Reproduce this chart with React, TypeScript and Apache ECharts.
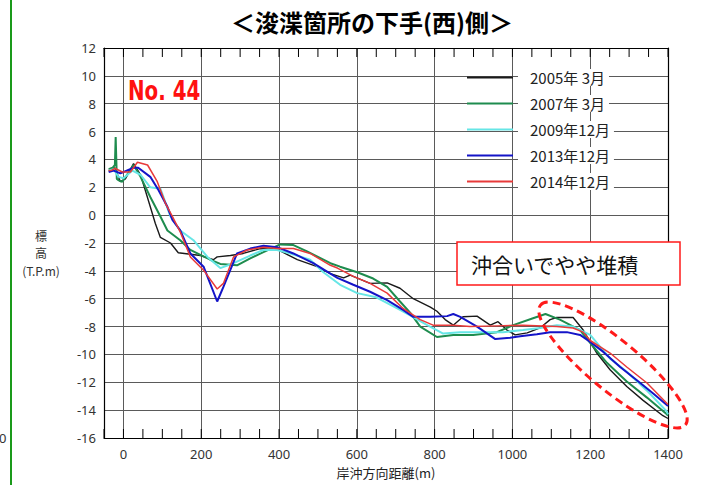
import React, { useEffect, useRef } from "react";
import * as echarts from "echarts";

const titleText = "＜浚渫箇所の下手(西)側＞";
const seriesNames = ["2005年 3月", "2007年 3月", "2009年12月", "2013年12月", "2014年12月"];
const seriesColors = ["#1a1a1a", "#1e8c4e", "#66e6e6", "#1414c8", "#e83a3a"];
const seriesWidths = [1.4, 2, 2, 2, 1.5];

const s2005: [number, number][] = [
  [-38, 3.2], [-22, 3.4], [-8, 2.4], [5, 2.6], [26, 3.7], [44, 2.9], [69, 0.6], [82, -0.6], [95, -1.6],
  [121, -2.0], [141, -2.7], [198, -2.9], [231, -3.2], [241, -3.0], [275, -2.9], [308, -2.75], [352, -2.4],
  [398, -2.5], [447, -3.2], [498, -3.7], [532, -4.2], [566, -4.5], [583, -4.3], [634, -4.9], [678, -4.86],
  [711, -5.25], [745, -6.0], [789, -6.6], [806, -6.9], [827, -7.5], [848, -7.9], [873, -7.3], [909, -7.25],
  [943, -7.9], [963, -7.65], [986, -8.25], [1007, -8.6], [1038, -8.45], [1071, -8.1], [1097, -7.5],
  [1114, -7.35], [1156, -7.35], [1182, -8.25], [1217, -9.9], [1251, -11.1], [1294, -12.3], [1336, -13.3],
  [1387, -14.4], [1400, -14.6],
];
const s2007: [number, number][] = [
  [-38, 3.3], [-28, 3.4], [-22, 3.6], [-20, 5.6], [-17, 2.6], [-12, 2.5], [-3, 2.4], [26, 3.6], [44, 2.75],
  [69, 1.3], [95, -0.1], [113, -1.1], [146, -1.8], [172, -2.5], [223, -3.2], [249, -3.5], [292, -3.6],
  [326, -3.1], [360, -2.65], [403, -2.1], [437, -2.15], [472, -2.6], [532, -3.45], [557, -3.7], [601, -4.1],
  [642, -4.55], [678, -5.15], [711, -6.2], [737, -7.0], [763, -8.0], [806, -8.75], [848, -8.6], [899, -8.6],
  [960, -8.4], [1002, -7.9], [1053, -7.4], [1085, -7.1], [1122, -7.5], [1174, -8.25], [1208, -9.45],
  [1243, -10.6], [1294, -11.95], [1346, -13.1], [1397, -14.3], [1400, -14.4],
];
const s2009: [number, number][] = [
  [-38, 3.2], [-25, 3.3], [-13, 2.75], [0, 2.65], [23, 3.2], [44, 2.9], [69, 2.0], [95, 1.9], [121, -0.1],
  [146, -1.1], [180, -1.8], [216, -3.0], [249, -3.8], [283, -3.45], [326, -2.9], [360, -2.5], [395, -2.5],
  [429, -2.75], [480, -3.2], [514, -4.1], [557, -5.0], [601, -5.6], [650, -5.9], [704, -6.7], [737, -7.2],
  [781, -7.9], [822, -8.5], [866, -8.4], [917, -8.4], [976, -8.4], [1027, -8.25], [1071, -8.1], [1114, -7.9],
  [1156, -8.0], [1200, -8.6], [1251, -10.3], [1294, -11.25], [1346, -12.6], [1397, -14.1], [1400, -14.3],
];
const s2013: [number, number][] = [
  [-38, 3.1], [-25, 3.2], [-8, 3.0], [26, 3.4], [38, 3.4], [69, 2.75], [90, 1.8], [113, 0.6], [126, -0.35],
  [146, -1.1], [172, -2.75], [206, -3.7], [241, -6.2], [257, -5.15], [292, -2.75], [326, -2.4], [360, -2.2],
  [395, -2.3], [437, -2.75], [488, -3.45], [532, -4.2], [550, -4.5], [591, -5.0], [634, -5.5], [678, -6.1],
  [719, -6.8], [745, -7.3], [789, -7.3], [832, -7.25], [848, -7.1], [866, -7.3], [909, -8.0], [956, -8.9],
  [994, -8.8], [1020, -8.7], [1063, -8.55], [1097, -8.4], [1140, -8.4], [1174, -8.6], [1200, -9.1],
  [1233, -9.8], [1277, -10.9], [1320, -11.85], [1362, -12.8], [1400, -13.7],
];
const s2014: [number, number][] = [
  [-38, 3.2], [-33, 3.2], [-21, 3.35], [-3, 3.1], [18, 3.1], [36, 3.8], [62, 3.6], [87, 2.4], [108, 0.85],
  [126, -0.1], [146, -1.2], [172, -3.0], [206, -3.95], [241, -5.3], [257, -4.9], [283, -3.0], [318, -2.5],
  [360, -2.3], [395, -2.4], [437, -2.4], [480, -2.75], [532, -3.6], [550, -3.8], [591, -4.4], [634, -4.9],
  [678, -5.6], [719, -6.7], [763, -7.5], [796, -7.9], [848, -7.9], [891, -8.0], [960, -7.95], [1027, -7.9],
  [1114, -8.0], [1156, -8.1], [1182, -8.4], [1200, -9.0], [1251, -9.9], [1294, -10.9], [1346, -12.05],
  [1400, -13.6],
];
const seriesData = [s2005, s2007, s2009, s2013, s2014];

// positions of the short edge ticks along the x axis (every 50 m)
const xTickValues = [
  -50, 0, 50, 100, 150, 200, 250, 300, 350, 400, 450, 500, 550, 600, 650, 700,
  750, 800, 850, 900, 950, 1000, 1050, 1100, 1150, 1200, 1250, 1300, 1350, 1400,
];

const xMin = -50;
const xMax = 1400;
const xTickStep = 50;
const xLabelStep = 200;
const yMin = -16;
const yMax = 12;
const yStep = 2;

const xAxisName = "岸沖方向距離(m)";
const yAxisName1 = "標";
const yAxisName2 = "高";
const yAxisName3 = "(T.P.m)";
const sectionLabel = "No. 44";
const noteText = "沖合いでやや堆積";

const JP = "'Noto Sans CJK JP', 'Noto Sans', sans-serif";
const T = "rgba(0,0,0,0)";
const GRID = "#5a5a5a";
const TICK_LEN = 9;

function txt(x: number, y: number, text: string, s: any, extra: any = {}) {
  const align = s.align || "center";
  return {
    type: "text", x, y, ...extra,
    style: { text, fill: "#333", fontFamily: JP, align, verticalAlign: "middle", textAlign: align, textVerticalAlign: "middle", ...s },
  };
}

export default function App() {
  const ref = useRef<HTMLDivElement>(null);
  useEffect(() => {
    if (!ref.current) return;
    const chart = echarts.init(ref.current, null, { renderer: "svg" });
    const lineSeries = seriesNames.map((n, i) => ({
      name: n, type: "line", xAxisIndex: 0, yAxisIndex: 0, data: seriesData[i], symbol: "none", showSymbol: false,
      lineStyle: { color: seriesColors[i], width: seriesWidths[i] },
      itemStyle: { color: seriesColors[i] },
      z: 3,
    }));
    const tickSeries = {
      name: "ticks", type: "custom", xAxisIndex: 0, yAxisIndex: 0, silent: true, z: 2,
      data: xTickValues.map((v) => [v]),
      encode: { x: 0 },
      renderItem: (_params: any, api: any) => {
        const x = api.coord([api.value(0), yMin])[0];
        const yb = api.coord([xMin, yMin])[1];
        const yt = api.coord([xMin, yMax])[1];
        const st = { stroke: "#000", lineWidth: 1 };
        return {
          type: "group",
          children: [
            { type: "line", shape: { x1: x, y1: yb, x2: x, y2: yb - TICK_LEN }, style: st },
            { type: "line", shape: { x1: x, y1: yt, x2: x, y2: yt + TICK_LEN }, style: st },
          ],
        };
      },
    };
    const option: any = {
      animation: false,
      backgroundColor: "#fff",
      grid: { left: 104, right: 43, top: 48, bottom: 47 },
      xAxis: [
        {
          type: "value", min: xMin, max: xMax, interval: xTickStep,
          name: xAxisName, nameLocation: "middle", nameGap: 28,
          nameTextStyle: { fontFamily: JP, fontSize: 13, color: "#222" },
          axisLine: { show: true, onZero: false, lineStyle: { color: "#000", width: 1.2 } },
          axisTick: { show: false },
          axisLabel: {
            fontFamily: "'Noto Sans', sans-serif", fontSize: 13, color: "#333", margin: 9,
            formatter: (v: number) => (v % xLabelStep === 0 ? String(v) : ""),
          },
          splitLine: { show: true, lineStyle: { color: [T, GRID, T, T], width: 1 } },
        },
        {
          type: "value", min: xMin, max: xMax, interval: xTickStep, position: "top",
          axisLine: { show: true, onZero: false, lineStyle: { color: "#000", width: 1.2 } },
          axisTick: { show: false },
          axisLabel: { show: false },
          splitLine: { show: false },
        },
      ],
      yAxis: [
        {
          type: "value", min: yMin, max: yMax, interval: yStep, position: "left",
          axisLine: { show: true, onZero: false, lineStyle: { color: "#000", width: 1.2 } },
          axisTick: { show: false },
          axisLabel: { fontFamily: "'Noto Sans', sans-serif", fontSize: 13, color: "#333", margin: 8 },
          splitLine: { show: true, lineStyle: { color: GRID, width: 1 } },
        },
        {
          type: "value", min: yMin, max: yMax, interval: yStep, position: "right",
          axisLine: { show: true, onZero: false, lineStyle: { color: "#000", width: 1.2 } },
          axisTick: { show: false },
          axisLabel: { show: false },
          splitLine: { show: false },
        },
      ],
      legend: {
        orient: "vertical", left: 462, top: 64, itemWidth: 46, itemHeight: 2, itemGap: 9,
        icon: "rect",
        data: seriesNames,
        textStyle: {
          fontFamily: JP, fontSize: 15, color: "#222", backgroundColor: "#fff",
          padding: [1, 4, 1, 12],
        },
      },
      series: [tickSeries, ...lineSeries],
      graphic: [
        { type: "line", shape: { x1: 11, y1: 0, x2: 11, y2: 485 }, style: { stroke: "#1a9a1a", lineWidth: 2 } },
        txt(-1, 438, "0", { fontSize: 13, align: "left", fontFamily: "'Noto Sans', sans-serif" }),
        txt(372, 21, titleText, { fontSize: 24, fontWeight: "bold", fill: "#000" }),
        txt(41, 235, yAxisName1, { fontSize: 12 }),
        txt(41, 252, yAxisName2, { fontSize: 12 }),
        txt(41, 270, yAxisName3, { fontSize: 12 }),
        txt(128, 91, sectionLabel, { fontSize: 24, fontWeight: "bold", fill: "#ff1010", align: "left", fontFamily: "'DejaVu Sans Condensed', 'Liberation Sans', sans-serif" }, { z: 20, scaleX: 0.92, scaleY: 1.1 }),
        { type: "rect", z: 20, shape: { x: 457, y: 242, width: 223, height: 43 }, style: { fill: "#fff", stroke: "#ff1a1a", lineWidth: 1.5 } },
        txt(471, 264, noteText, { fontSize: 21, fill: "#111", align: "left" }, { z: 21 }),
        { type: "ellipse", z: 22, x: 613, y: 365, rotation: -0.69, shape: { cx: 0, cy: 0, rx: 94, ry: 25 }, style: { fill: "none", stroke: "#ff1a1a", lineWidth: 3, lineDash: [8, 5] } },
      ],
    };
    chart.setOption(option);
    return () => chart.dispose();
  }, []);
  return <div ref={ref} style={{ position: "fixed", left: 0, top: 0, width: 711, height: 485 }} />;
}
